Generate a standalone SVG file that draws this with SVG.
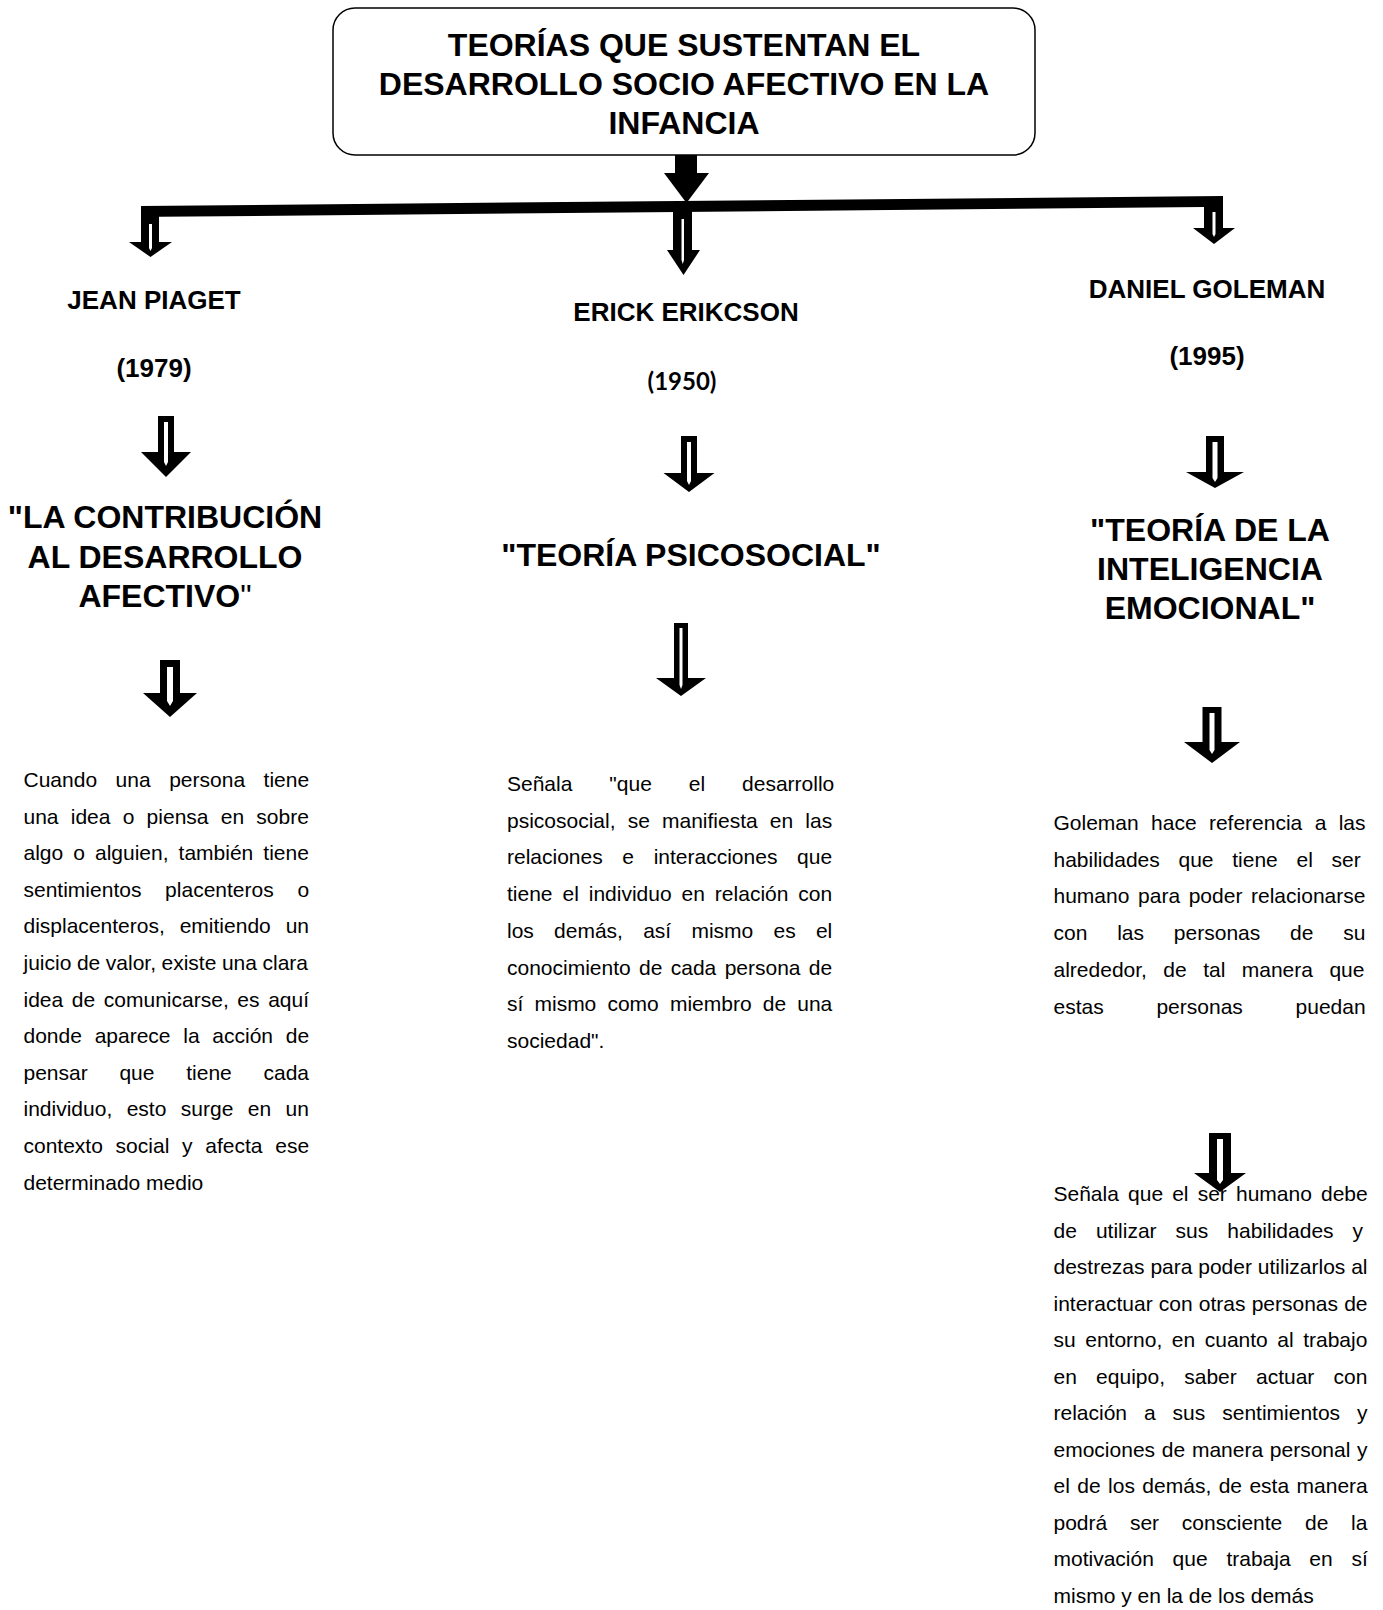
<svg xmlns="http://www.w3.org/2000/svg" width="1383" height="1610" viewBox="0 0 1383 1610">
<style>
  text { font-family: "Liberation Sans", Arial, sans-serif; fill: #000; }
  .title { font-size: 32px; font-weight: bold; text-anchor: middle; }
  .head { font-size: 32px; font-weight: bold; text-anchor: middle; }
  .name { font-size: 26px; font-weight: bold; text-anchor: middle; }
  .year2 { font-family: Lato, "Open Sans", sans-serif; font-size: 24px; font-weight: bold; text-anchor: middle; }
  .body { font-size: 21px; }
  .blk { fill: #000; stroke: none; }
  .slit { fill: #fff; stroke: none; }
</style>

<g id="title">
  <rect x="333" y="8" width="702" height="147" rx="22" ry="22" fill="#fff" stroke="#000" stroke-width="1.5"/>
  <text class="title" x="684" y="56">TEORÍAS QUE SUSTENTAN EL</text>
  <text class="title" x="684" y="95">DESARROLLO SOCIO AFECTIVO EN LA</text>
  <text class="title" x="684" y="134">INFANCIA</text>
</g>

<g id="piaget-name">
  <text class="name" x="154" y="309">JEAN PIAGET</text>
  <text class="name" x="154" y="377">(1979)</text>
</g>
<g id="erikson-name">
  <text class="name" x="686" y="321">ERICK ERIKCSON</text>
  <text class="year2" x="682" y="390">(1950)</text>
</g>
<g id="goleman-name">
  <text class="name" x="1207" y="298">DANIEL GOLEMAN</text>
  <text class="name" x="1207" y="365">(1995)</text>
</g>

<g id="piaget-theory">
  <text class="head" x="165" y="528">"LA CONTRIBUCIÓN</text>
  <text class="head" x="165" y="568">AL DESARROLLO</text>
  <text class="head" x="165" y="607">AFECTIVO<tspan font-weight="normal">"</tspan></text>
</g>
<g id="erikson-theory">
  <text class="head" x="691" y="566">"TEORÍA PSICOSOCIAL"</text>
</g>
<g id="goleman-theory">
  <text class="head" x="1210" y="541">"TEORÍA DE LA</text>
  <text class="head" x="1210" y="580">INTELIGENCIA</text>
  <text class="head" x="1210" y="619">EMOCIONAL"</text>
</g>

<g id="piaget-text">
  <text class="body" x="23.5" y="787" word-spacing="12.7">Cuando una persona tiene</text>
  <text class="body" x="23.5" y="823.6" word-spacing="6.4">una idea o piensa en sobre</text>
  <text class="body" x="23.5" y="860.2" word-spacing="4.2">algo o alguien, también tiene</text>
  <text class="body" x="23.5" y="896.8" word-spacing="17.9">sentimientos placenteros o</text>
  <text class="body" x="23.5" y="933.4" word-spacing="9.1">displacenteros, emitiendo un</text>
  <text class="body" x="23.5" y="970" word-spacing="-0.3">juicio de valor, existe una clara</text>
  <text class="body" x="23.5" y="1006.6" word-spacing="2.8">idea de comunicarse, es aquí</text>
  <text class="body" x="23.5" y="1043.2" word-spacing="6.9">donde aparece la acción de</text>
  <text class="body" x="23.5" y="1079.8" word-spacing="25.9">pensar que tiene cada</text>
  <text class="body" x="23.5" y="1116.4" word-spacing="8.6">individuo, esto surge en un</text>
  <text class="body" x="23.5" y="1153" word-spacing="6.9">contexto social y afecta ese</text>
  <text class="body" x="23.5" y="1189.6">determinado medio</text>
</g>

<g id="erikson-text">
  <text class="body" x="507" y="791" word-spacing="31.1">Señala "que el desarrollo</text>
  <text class="body" x="507" y="827.7" word-spacing="6.3">psicosocial, se manifiesta en las</text>
  <text class="body" x="507" y="864.4" word-spacing="13.8">relaciones e interacciones que</text>
  <text class="body" x="507" y="901.1" word-spacing="4.1">tiene el individuo en relación con</text>
  <text class="body" x="507" y="937.8" word-spacing="14.4">los demás, así mismo es el</text>
  <text class="body" x="507" y="974.5" word-spacing="2.5">conocimiento de cada persona de</text>
  <text class="body" x="507" y="1011.2" word-spacing="5.3">sí mismo como miembro de una</text>
  <text class="body" x="507" y="1047.9">sociedad".</text>
</g>

<g id="goleman-text1">
  <text class="body" x="1053.5" y="830" word-spacing="6.5">Goleman hace referencia a las</text>
  <text class="body" x="1053.5" y="866.7" word-spacing="12.9">habilidades que tiene el ser</text>
  <text class="body" x="1053.5" y="903.4" word-spacing="2.8">humano para poder relacionarse</text>
  <text class="body" x="1053.5" y="940.1" word-spacing="24">con las personas de su</text>
  <text class="body" x="1053.5" y="976.8" word-spacing="10.6">alrededor, de tal manera que</text>
  <text class="body" x="1053.5" y="1013.5" word-spacing="46.9">estas personas puedan</text>
</g>

<g id="goleman-text2">
  <text class="body" x="1053.5" y="1201" word-spacing="3.3">Señala que el ser humano debe</text>
  <text class="body" x="1053.5" y="1237.5" word-spacing="13.2">de utilizar sus habilidades y</text>
  <text class="body" x="1053.5" y="1274" word-spacing="0">destrezas para poder utilizarlos al</text>
  <text class="body" x="1053.5" y="1310.5" word-spacing="0.3">interactuar con otras personas de</text>
  <text class="body" x="1053.5" y="1347" word-spacing="3.7">su entorno, en cuanto al trabajo</text>
  <text class="body" x="1053.5" y="1383.5" word-spacing="13.4">en equipo, saber actuar con</text>
  <text class="body" x="1053.5" y="1420" word-spacing="11.1">relación a sus sentimientos y</text>
  <text class="body" x="1053.5" y="1456.5" word-spacing="0.9">emociones de manera personal y</text>
  <text class="body" x="1053.5" y="1493" word-spacing="1.6">el de los demás, de esta manera</text>
  <text class="body" x="1053.5" y="1529.5" word-spacing="16.9">podrá ser consciente de la</text>
  <text class="body" x="1053.5" y="1566" word-spacing="12.9">motivación que trabaja en sí</text>
  <text class="body" x="1053.5" y="1602.5">mismo y en la de los demás</text>
</g>

<g id="connectors">
  <path class="blk" d="M675,155 H697 V173 H709 L686.5,203 L664,173 H675 Z"/>
  <path class="blk" d="M141,206 L1223,196 V228 H1235 L1214,244 L1193,228 H1204 V207 L159,216.8 V242 H172 L150.5,257 L129,242 H141 Z"/>
  <path class="slit" d="M149,224 H152 V248 L150.5,251 L149,248 Z"/>
  <path class="slit" d="M1212.5,212 H1215.5 V234 L1214,237 L1212.5,234 Z"/>
  <path class="blk" d="M673,205 H692 V250 H700 L683.5,275 L667,250 H673 Z"/>
  <path class="slit" d="M681.5,219 H684 V260 L682.75,264 L681.5,260 Z"/>
  <path class="blk" d="M158,416 H174 V452 H191 L166,477 L141,452 H158 Z"/>
  <path class="slit" d="M164,422 H168 V462 L166,466 L164,462 Z"/>
  <path class="blk" d="M160,660 H180 V693 H197 L170,717 L143,693 H160 Z"/>
  <path class="slit" d="M167,667 H173 V701 L170,706 L167,701 Z"/>
  <path class="blk" d="M681,436 H697 V473 H714.5 L689,492 L663.5,473 H681 Z"/>
  <path class="slit" d="M687,442 H691 V481 L689,485 L687,481 Z"/>
  <path class="blk" d="M674,623 H688 V678 H706 L681,696 L656,678 H674 Z"/>
  <path class="slit" d="M679.5,628 H682.5 V685 L681,689 L679.5,685 Z"/>
  <path class="blk" d="M1206,436 H1224 V472 H1244 L1215,488 L1186,472 H1206 Z"/>
  <path class="slit" d="M1212.5,442 H1217.5 V478 L1215,482 L1212.5,478 Z"/>
  <path class="blk" d="M1202.5,707 H1221.5 V742 H1240 L1212,763 L1184,742 H1202.5 Z"/>
  <path class="slit" d="M1209.5,713 H1214.5 V750 L1212,754 L1209.5,750 Z"/>
  <path class="blk" d="M1209,1133 H1231 V1173 H1246 L1220,1192 L1194,1173 H1209 Z"/>
  <path class="slit" d="M1217,1139 H1223 V1180 L1220,1184 L1217,1180 Z"/>
</g>
</svg>
